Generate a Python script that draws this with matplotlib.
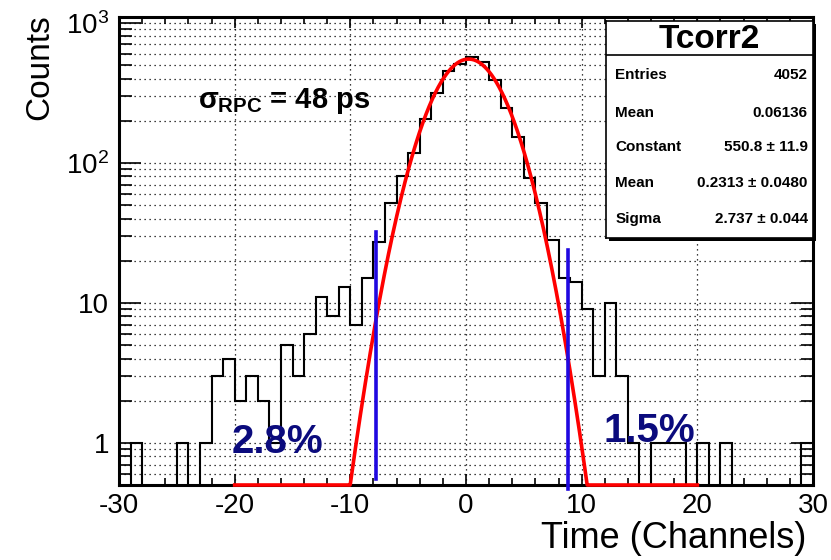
import numpy as np
import matplotlib
matplotlib.use('Agg')
import matplotlib.pyplot as plt
from matplotlib.ticker import FixedLocator, MultipleLocator, FuncFormatter, NullFormatter, LogLocator
from matplotlib.patches import Rectangle

plt.rcParams['font.family'] = ['Liberation Sans', 'DejaVu Sans']
plt.rcParams['axes.unicode_minus'] = False
plt.rcParams['mathtext.fontset'] = 'custom'
plt.rcParams['mathtext.rm'] = 'Liberation Sans:bold'
plt.rcParams['mathtext.it'] = 'Liberation Sans:bold'
plt.rcParams['mathtext.bf'] = 'Liberation Sans:bold'

# Tcorr2 histogram: 60 bins of one channel between -30 and 30
x_lo, x_hi, n_bins = -30, 30, 60
counts = [0, 1, 0, 0, 0, 1, 0, 1, 3, 4,
          2, 3, 2, 1, 5, 3, 6, 11, 8, 13,
          7, 15, 27, 52, 81, 118, 205, 315, 456, 509,
          574, 529, 392, 246, 154, 78, 52, 28, 15, 14,
          9, 3, 10, 3, 1, 0, 1, 1, 1, 0,
          1, 0, 1, 0, 0, 0, 0, 0, 0, 1]

# gaussian fit result
fit_const, fit_mean, fit_sigma = 550.8, 0.2313, 2.737
fit_range = (-20, 20)

# stats box
stats_title = 'Tcorr2'
stats_rows = [('Entries', '4052'),
              ('Mean', '0.06136'),
              ('Constant', '550.8 \u00b1 11.9'),
              ('Mean', '0.2313 \u00b1 0.0480'),
              ('Sigma', '2.737 \u00b1 0.044')]

# tail cut markers: (x, y bottom, y top)
cut_left = (-7.8, 0.55, 32)
cut_right = (8.8, 0.47, 24)

y_min, y_max = 0.5, 1100

W, H = 831, 560
fig = plt.figure(figsize=(W / 100, H / 100), dpi=100)
ax = fig.add_axes([119 / W, 1 - 485 / H, (813 - 119) / W, (485 - 17) / H])

edges = np.linspace(x_lo, x_hi, n_bins + 1)
vals = np.array(counts, dtype=float)
draw_vals = np.where(vals > 0, vals, 0.05)
ax.stairs(draw_vals, edges, baseline=None, color='black', lw=1.5, zorder=3)

# fit curve, held at the frame floor where it drops below the axis range
xf = np.linspace(fit_range[0], fit_range[1], 1601)
gf = fit_const * np.exp(-0.5 * ((xf - fit_mean) / fit_sigma) ** 2)
ax.plot(xf, np.maximum(gf, y_min), color='#ff0000', lw=2.6, zorder=7, clip_on=False)

blue = '#2008e0'
for cx, cb, ct in (cut_left, cut_right):
    ax.plot([cx, cx], [cb, ct], color=blue, lw=2.6, zorder=8, clip_on=False)

ax.set_yscale('log')
ax.set_xlim(x_lo, x_hi)
ax.set_ylim(y_min, y_max)

ax.xaxis.set_major_locator(MultipleLocator(10))
ax.xaxis.set_minor_locator(MultipleLocator(2))
ax.yaxis.set_major_locator(FixedLocator([1, 10, 100, 1000]))
ax.yaxis.set_minor_locator(LogLocator(base=10, subs=np.arange(2, 10), numticks=20))
ax.yaxis.set_minor_formatter(NullFormatter())

ylabels = {1: '1', 10: '10', 100: r'$\mathregular{10^{2}}$', 1000: r'$\mathregular{10^{3}}$'}
ax.yaxis.set_major_formatter(FuncFormatter(lambda v, p: ylabels.get(int(round(v)), '')))

ax.tick_params(which='both', direction='in', top=True, right=True, colors='black', labelsize=20)
ax.tick_params(axis='x', which='major', length=8, width=1.2, pad=6)
ax.tick_params(axis='x', which='minor', length=5, width=1.2)
ax.tick_params(axis='y', which='major', length=16, width=1.2, pad=7)
ax.tick_params(axis='y', which='minor', length=9, width=1.2)

dots = (0, (1, 3))
ax.set_axisbelow(True)
ax.grid(True, axis='x', which='major', linestyle=dots, color='black', lw=0.9)
ax.grid(True, axis='y', which='both', linestyle=dots, color='black', lw=0.9)
for s in ax.spines.values():
    s.set_linewidth(2.2)
    s.set_zorder(6)

ax.text(-23.2, 245, r'$\sigma_{RPC}$ = 48 ps', fontsize=21, fontweight='bold', zorder=9)
navy = '#0b0b7d'
ax.text(-20.3, 0.84, '2.8%', fontsize=29, fontweight='bold', color=navy, zorder=9)
ax.text(11.9, 1.02, '1.5%', fontsize=29, fontweight='bold', color=navy, zorder=9)

fig.text(40 / W, 1 - 14 / H, 'Counts', rotation=90, ha='center', va='top', fontsize=24)
fig.text(806 / W, 1 - 538 / H, 'Time (Channels)', ha='right', va='center', fontsize=26)

# stats box with drop shadow
bx0, by0, bx1, by1 = 606, 21, 813, 238
shadow = Rectangle(((bx0 + 3) / W, 1 - (by1 + 3) / H), (bx1 - bx0) / W, (by1 - by0) / H,
                   transform=fig.transFigure, facecolor='black', edgecolor='none', zorder=8)
fig.patches.append(shadow)
sax = fig.add_axes([bx0 / W, 1 - by1 / H, (bx1 - bx0) / W, (by1 - by0) / H])
sax.set_zorder(9)
sax.set_xticks([])
sax.set_yticks([])
sax.set_xlim(0, 1)
sax.set_ylim(0, 1)
for s in sax.spines.values():
    s.set_linewidth(1.2)


def fy(py):
    return (by1 - py) / (by1 - by0)


sax.axhline(fy(55), color='black', lw=1.2)
sax.text(0.5, fy(39), stats_title, ha='center', va='center', fontsize=24, fontweight='bold')
row_y = [75, 113, 147, 183, 219]
for (name, val), py in zip(stats_rows, row_y):
    sax.text(0.045, fy(py), name, ha='left', va='center', fontsize=11, fontweight='bold')
    sax.text(0.975, fy(py), val, ha='right', va='center', fontsize=11, fontweight='bold')

fig.savefig('out.png', dpi=100)
